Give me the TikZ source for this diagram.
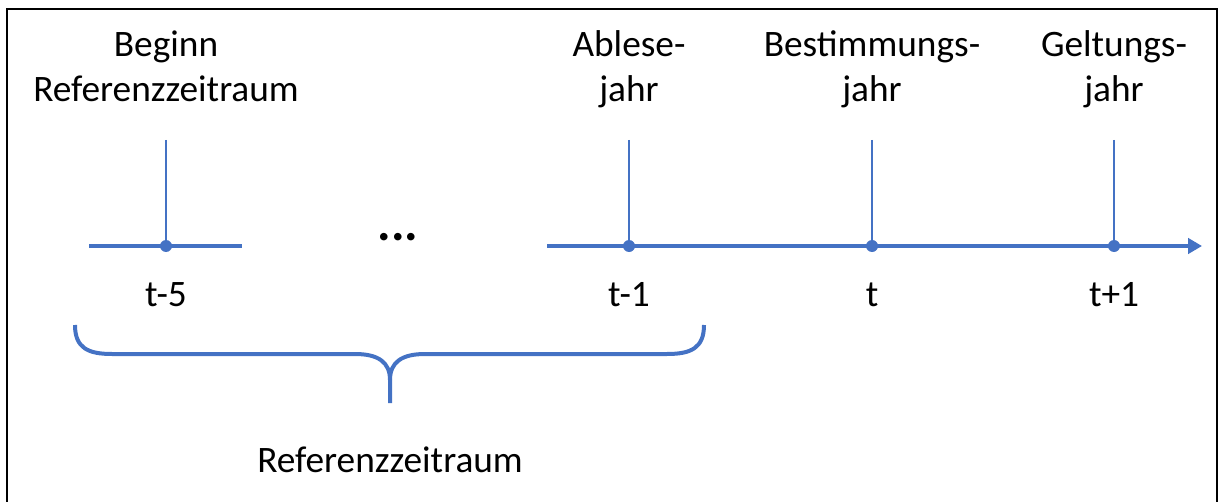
\documentclass[tikz,border=0pt]{standalone}
\usepackage{fontspec}
\setmainfont{Carlito}
\usetikzlibrary{arrows.meta}
\definecolor{axisblue}{HTML}{4472C4}
\begin{document}
\begin{tikzpicture}[x=0.75pt,y=-0.75pt,
  lbl/.style={font=\fontsize{28}{33.75}\selectfont, inner sep=0pt, align=center, anchor=base},
  axisline/.style={draw=axisblue, line width=3.5pt},
  tickline/.style={draw=axisblue, line width=1.5pt},
  yeardot/.style={circle, fill=axisblue, inner sep=0pt, minimum size=9pt},
  braceline/.style={draw=axisblue, line width=3pt, line join=round}]
\useasboundingbox (0,0) rectangle (1219,502);
% frame
\draw[line width=1.2pt] (7,502) -- (7,9) -- (1217,9) -- (1217,502);

% start of the reference period (separate segment)
\coordinate (ls) at (89,246);
\coordinate (le) at (242,246);
\draw[axisline] (ls) -- (le);

% main time axis
\coordinate (axstart) at (547,246);
\coordinate (axend) at (1202,246);
\draw[axisline, -{Triangle[length=10.5pt, width=11.5pt]}] (axstart) -- (axend);

% tick tops
\coordinate (k5) at (166,140);
\coordinate (k1) at (629,140);
\coordinate (k0) at (872,140);
\coordinate (kp) at (1114,140);

\draw[tickline] (k5) -- (166,246);
\draw[tickline] (k1) -- (629,246);
\draw[tickline] (k0) -- (872,246);
\draw[tickline] (kp) -- (1114,246);

\node[yeardot] (d5) at (166,246) {};
\node[yeardot] (d1) at (629,246) {};
\node[yeardot] (d0) at (872,246) {};
\node[yeardot] (dp) at (1114,246) {};

% labels above (base anchor = baseline of the last line)
\node[lbl] (l5) at (166,102) {Beginn\\Referenzzeitraum};
\node[lbl] (l1) at (629,102) {Ablese-\\jahr};
\node[lbl] (l0) at (872,102) {Bestimmungs-\\jahr};
\node[lbl] (lp) at (1114,102) {Geltungs-\\jahr};

% labels below
\node[lbl] (t5) at (166,306) {t-5};
\node[lbl] (t1) at (629,306) {t-1};
\node[lbl] (t0) at (872,306) {t};
\node[lbl] (tp) at (1114,306) {t+1};

% ellipsis
\node[font=\fontsize{38}{40}\selectfont\bfseries, inner sep=0pt, anchor=base] (dots) at (398,240) {...};

% brace
\coordinate (bl) at (75,325);
\coordinate (br) at (704,325);
\coordinate (bm) at (390,380);
\coordinate (bt) at (390,403);
\draw[braceline] (bl) .. controls (75,348) and (88,354) .. (112,354) -- (355,354)
  .. controls (378,354) and (390,362) .. (bm) -- (bt);
\draw[braceline] (br) .. controls (704,348) and (691,354) .. (667,354) -- (425,354)
  .. controls (402,354) and (390,362) .. (bm);

\node[lbl] (ref) at (390,472) {Referenzzeitraum};
\end{tikzpicture}
\end{document}
